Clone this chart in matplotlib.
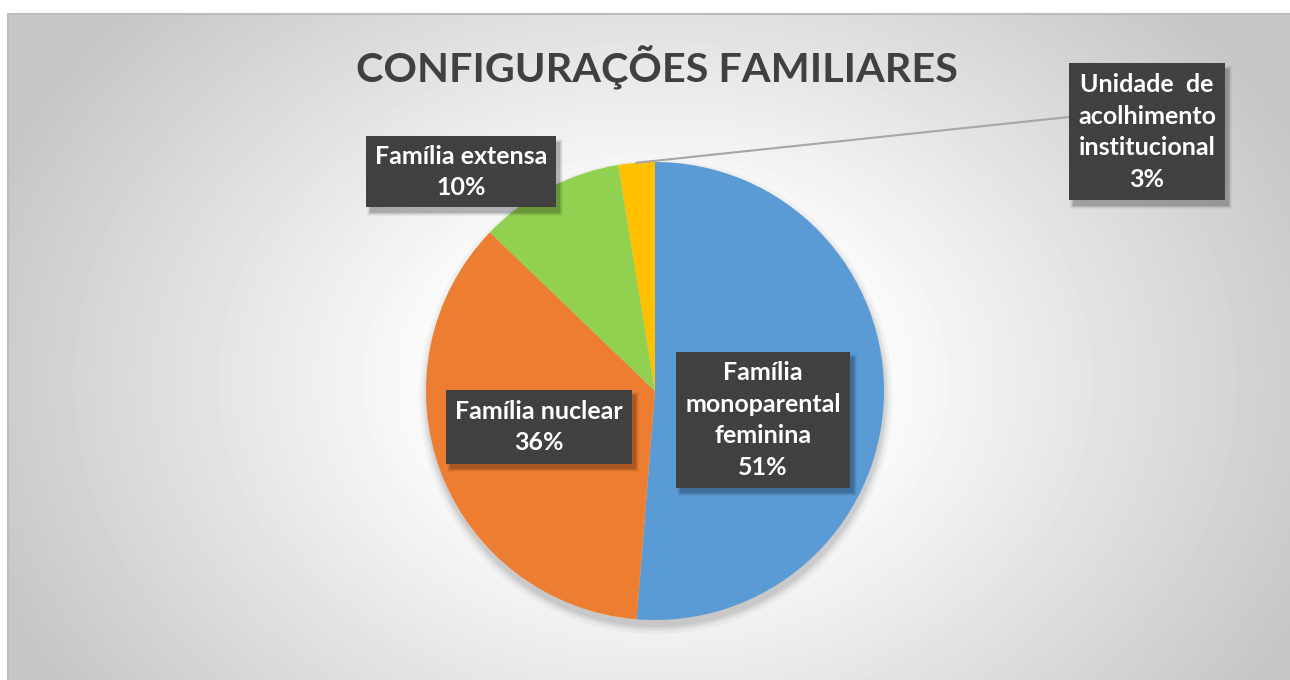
import numpy as np
import matplotlib
matplotlib.use("Agg")
import matplotlib.pyplot as plt
from matplotlib.patches import Rectangle, Circle

plt.rcParams['font.family'] = ['Lato', 'DejaVu Sans']

# dados
title = "CONFIGURAÇÕES FAMILIARES"
categories = ["Família\nmonoparental\nfeminina", "Família nuclear",
              "Família extensa", "Unidade  de\nacolhimento\ninstitucional"]
counts = [20, 14, 4, 1]
colors = ["#5B9BD5", "#ED7D31", "#92D050", "#FFC000"]

# caixas dos rótulos: centro x, centro y (px a partir do topo), largura, altura
label_boxes = [(763, 420, 174, 136), (539, 427, 186, 74),
               (461, 172, 190, 71), (1147, 132, 156, 137)]

W, H = 1290, 680
fig = plt.figure(figsize=(12.9, 6.8), dpi=100, facecolor="white")
ax = fig.add_axes([0, 0, 1, 1])

# fundo com gradiente radial
top, left = 14, 8
yy, xx = np.mgrid[top:H, left:W]
u = (xx - 655) / 645
v = (yy - 380) / 500
r = np.hypot(u, v)
g = (255 - 57 * np.clip((r - 0.3) / 0.8, 0, 1)) / 255
ax.imshow(g, cmap="gray", vmin=0, vmax=1, extent=(left, W, 0, H - top),
          origin="upper", zorder=0, interpolation="bilinear")
ax.add_patch(Rectangle((left, -5), W, H - top + 5, fill=False,
                       edgecolor="#bdbdbd", lw=1.5, zorder=1))

cx, cy, rad = 655, H - 391, 229

# sombra da pizza
for k, a in [(8, 0.03), (5, 0.04), (3, 0.05), (1, 0.06)]:
    ax.add_patch(Circle((cx + 1, cy - 6), rad + k, color="black",
                        alpha=a, lw=0, zorder=1))

wedges, _ = ax.pie(counts, colors=colors, startangle=90, counterclock=False,
                   center=(cx, cy), radius=rad,
                   wedgeprops=dict(linewidth=0))
for w in wedges:
    w.set_zorder(2)

ax.set_xlim(0, W)
ax.set_ylim(0, H)
ax.set_aspect("equal")
ax.axis("off")

# linha de chamada da fatia pequena
wy = wedges[3]
ang = np.deg2rad((wy.theta1 + wy.theta2) / 2)
bx, by, bw, bh = label_boxes[3]
ax.plot([cx + rad * np.cos(ang), bx - bw / 2], [cy + rad * np.sin(ang), H - 117],
        color="#a6a6a6", lw=1.5, zorder=3)

total = sum(counts)
for cat, n, (bx, by, bw, bh) in zip(categories, counts, label_boxes):
    x0 = bx - bw / 2
    y0 = H - by - bh / 2
    # sombra
    for k, a in [(6, 0.04), (4, 0.06), (2, 0.09), (0, 0.12)]:
        ax.add_patch(Rectangle((x0 + 4 - k / 2, y0 - 5 - k / 2), bw + k, bh + k,
                               color="black", alpha=a, lw=0, zorder=4))
    # padrão pontilhado
    pat = np.full((int(bh), int(bw)), 64.0)
    pat[3::8, 3::8] = 80
    pat[7::8, 7::8] = 76
    ax.imshow(pat, cmap="gray", vmin=0, vmax=255, extent=(x0, x0 + bw, y0, y0 + bh),
              interpolation="nearest", zorder=5)
    pct = round(n / total * 100)
    ax.text(bx, H - by, f"{cat}\n{pct}%", ha="center", va="center",
            color="white", fontsize=18, fontweight="bold", linespacing=1.45,
            multialignment="center", zorder=6)

ax.text(657, H - 83, title, ha="center", va="baseline", fontsize=29.8,
        fontweight="bold", color="#404040", zorder=6)

ax.set_xlim(0, W)
ax.set_ylim(0, H)
fig.savefig("out.png", dpi=100, facecolor="white")
